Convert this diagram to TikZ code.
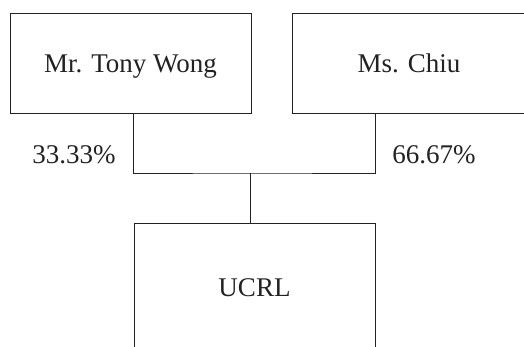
\documentclass[tikz,border=0pt]{standalone}
\usepackage{fontspec}
\setmainfont{Liberation Serif}
\definecolor{ink}{HTML}{222222}
\begin{document}
\begin{tikzpicture}[x=1pt,y=-1pt,
  box/.style={draw=ink,line width=0.9pt,rectangle,inner sep=0pt,
    text=ink,text height=20pt,text depth=2pt,font=\fontsize{27}{30}\selectfont},
  pct/.style={text=ink,inner sep=0pt,font=\fontsize{27}{30}\selectfont},
  link/.style={draw=ink,line width=0.9pt}]
\useasboundingbox (0,0) rectangle (524,346);
\clip (0,0) rectangle (524,346);
\node[box,minimum width=241pt,minimum height=100pt] (L) at (130.5,63) {Mr. Tony Wong};
\node[box,minimum width=234pt,minimum height=100pt] (R) at (409,63) {Ms. Chiu};
\node[box,minimum width=241pt,minimum height=128pt] (U) at (254.5,287) {UCRL};
\coordinate (j) at (250.7,173);
\draw[link] (L.south -| U.west) |- (j) -| (R.south -| U.east);
\draw[link] (j) -- (j |- U.north);
\node[pct,anchor=base] (p1) at (74,163) {33.33\%};
\node[pct,anchor=base] (p2) at (434,163) {66.67\%};
\end{tikzpicture}
\end{document}
